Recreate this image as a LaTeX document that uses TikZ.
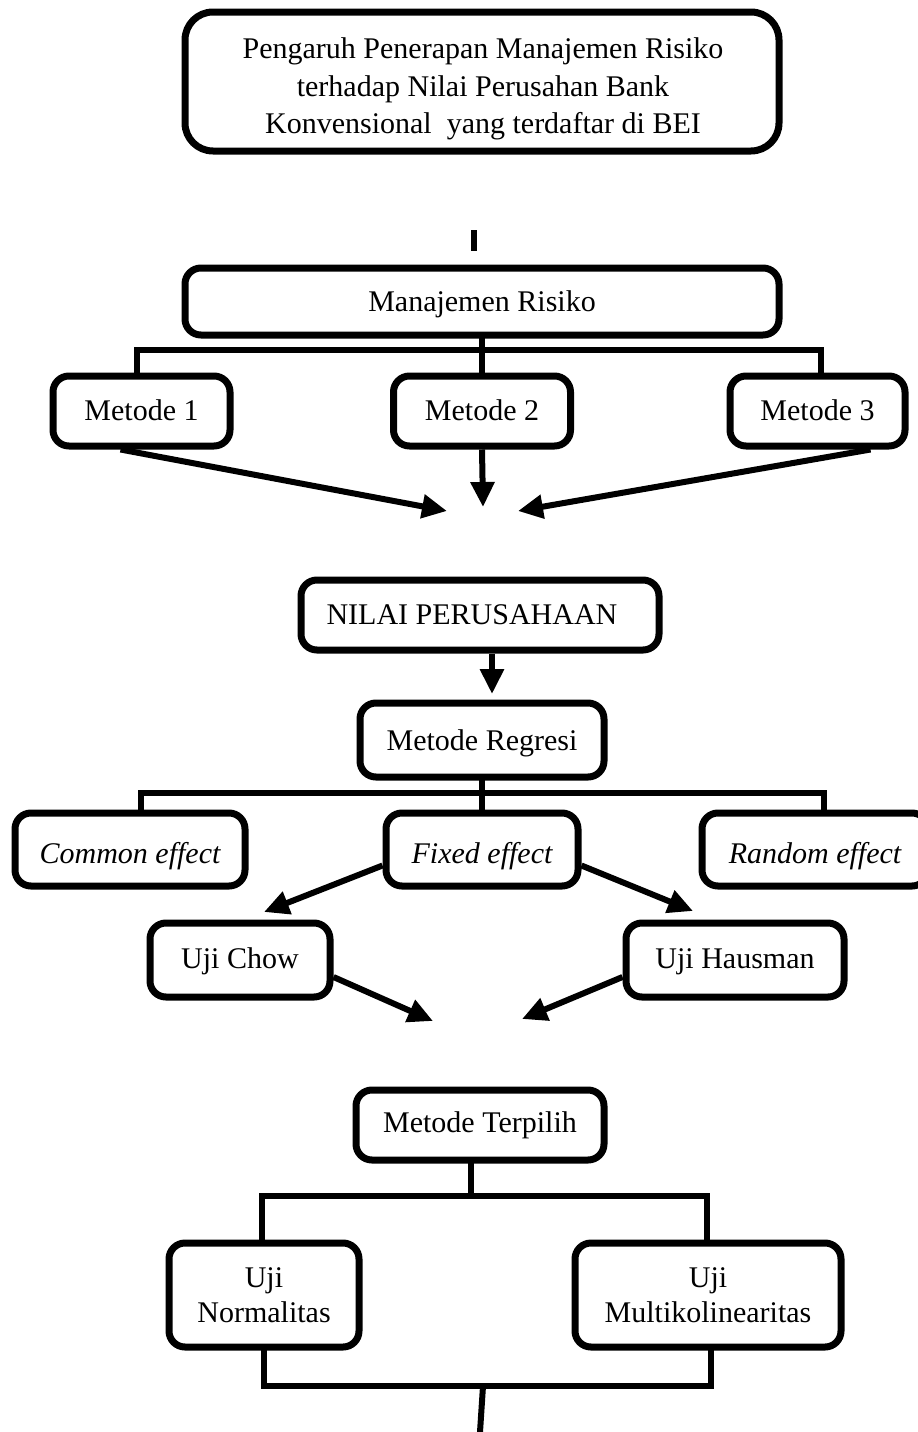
\documentclass[tikz,border=0pt]{standalone}
\usepackage{fontspec}
\setmainfont{Liberation Serif}
\usetikzlibrary{arrows.meta}
\begin{document}
\begin{tikzpicture}[x=1pt,y=-1pt,
  box/.style={draw, line width=7pt, rounded corners=16pt, fill=white, inner sep=0pt,
    align=center, font=\fontsize{30}{35}\selectfont},
  one/.style={text height={2*#1+7}, text depth=7pt},
  txt/.style={align=center, inner sep=0pt, font=\fontsize{30}{37.5}\selectfont},
  conn/.style={line width=6pt, line cap=rect},
  arr/.style={line width=6pt, -{Triangle[length=25pt,width=23pt]}}]
\useasboundingbox (0,0) rectangle (918,1432);

% title
\node[box, minimum width=594pt, minimum height=139pt, rounded corners=28pt] (title) at (482,81.5) {};
\node[txt] (titletext) at (483,89) {Pengaruh Penerapan Manajemen Risiko\\terhadap Nilai Perusahan Bank\\Konvensional\ \ yang terdaftar di BEI};

\coordinate (bar1) at (474,233);
\coordinate (bar2) at (474,248);
\draw[conn] (bar1) -- (bar2);

% Manajemen Risiko
\node[box, one=9.5pt, minimum width=594pt, minimum height=67pt] (mr) at (482,301.5) {Manajemen Risiko};
\node[box, one=9pt, minimum width=177pt, minimum height=70pt] (m1) at (141.5,411) {Metode 1};
\node[box, one=9pt, minimum width=177pt, minimum height=70pt] (m2) at (482,411) {Metode 2};
\node[box, one=9pt, minimum width=175pt, minimum height=70pt] (m3) at (817.5,411) {Metode 3};

\coordinate (h1L) at (137,350);
\coordinate (h1R) at (821,350);
\draw[conn] (h1L) -- (h1R);
\draw[conn] (mr.south) -- (m2.north);
\draw[conn] (h1L) -- (h1L |- m1.north);
\draw[conn] (h1R) -- (h1R |- m3.north);

\coordinate (tip1) at (447,511);
\coordinate (tip2) at (483,507);
\coordinate (tip3) at (518,511);
\draw[arr] ([xshift=-21pt]m1.south) -- (tip1);
\draw[arr] (m2.south) -- (tip2);
\draw[arr] ([xshift=53pt]m3.south) -- (tip3);

% Nilai perusahaan
\node[box, one=9pt, minimum width=358pt, minimum height=70pt] (nilai) at (480,615) {\hspace*{-16pt}NILAI PERUSAHAAN};
\coordinate (tipN) at (492,694);
\draw[arr] (nilai.south -| tipN) -- (tipN);

% Metode regresi
\node[box, one=10pt, minimum width=244pt, minimum height=74pt] (reg) at (482,740) {Metode Regresi};
\node[box, one=14pt, minimum width=230pt, minimum height=73pt] (common) at (130,849.5) {\itshape Common effect};
\node[box, one=14pt, minimum width=192pt, minimum height=73pt] (fixed) at (482,849.5) {\itshape Fixed effect};
\node[box, one=14pt, minimum width=226pt, minimum height=73pt] (random) at (815,849.5) {\itshape Random effect};

\coordinate (h2L) at (141,793);
\coordinate (h2R) at (824,793);
\draw[conn] (h2L) -- (h2R);
\draw[conn] (reg.south) -- (fixed.north);
\draw[conn] (h2L) -- (h2L |- common.north);
\draw[conn] (h2R) -- (h2R |- random.north);

% Uji Chow / Hausman
\node[box, one=8pt, minimum width=180pt, minimum height=74pt] (chow) at (240,960) {Uji Chow};
\node[box, one=8pt, minimum width=218pt, minimum height=74pt] (haus) at (735,960) {Uji Hausman};

\coordinate (tipC) at (264,912);
\coordinate (tipH) at (693,911);
\draw[arr] ([yshift=-16pt]fixed.west) -- (tipC);
\draw[arr] ([yshift=-16pt]fixed.east) -- (tipH);

\coordinate (tipCh) at (433,1021);
\coordinate (tipHa) at (522,1019);
\draw[arr] ([yshift=-17pt]chow.east) -- (tipCh);
\draw[arr] ([yshift=-17pt]haus.west) -- (tipHa);

% Metode terpilih
\node[box, one=7pt, minimum width=248pt, minimum height=70pt] (terp) at (480,1125) {Metode Terpilih};
\node[box, minimum width=190pt, minimum height=104pt] (norm) at (264,1295) {Uji\\Normalitas};
\node[box, minimum width=266pt, minimum height=104pt] (multi) at (708,1295) {Uji\\Multikolinearitas};

\coordinate (h3M) at (471,1196);
\coordinate (h3L) at (262,1196);
\coordinate (h3R) at (707,1196);
\draw[conn] (terp.south -| h3M) -- (h3M);
\draw[conn] (h3L) -- (h3R);
\draw[conn] (h3L) -- (h3L |- norm.north);
\draw[conn] (h3R) -- (h3R |- multi.north);

\coordinate (h4L) at (264,1386);
\coordinate (h4R) at (711,1386);
\coordinate (h4M) at (483,1386);
\coordinate (endB) at (480,1432);
\draw[conn] (norm.south -| h4L) -- (h4L);
\draw[conn] (multi.south -| h4R) -- (h4R);
\draw[conn] (h4L) -- (h4R);
\draw[line width=6pt] (h4M) -- (endB);
\end{tikzpicture}
\end{document}
